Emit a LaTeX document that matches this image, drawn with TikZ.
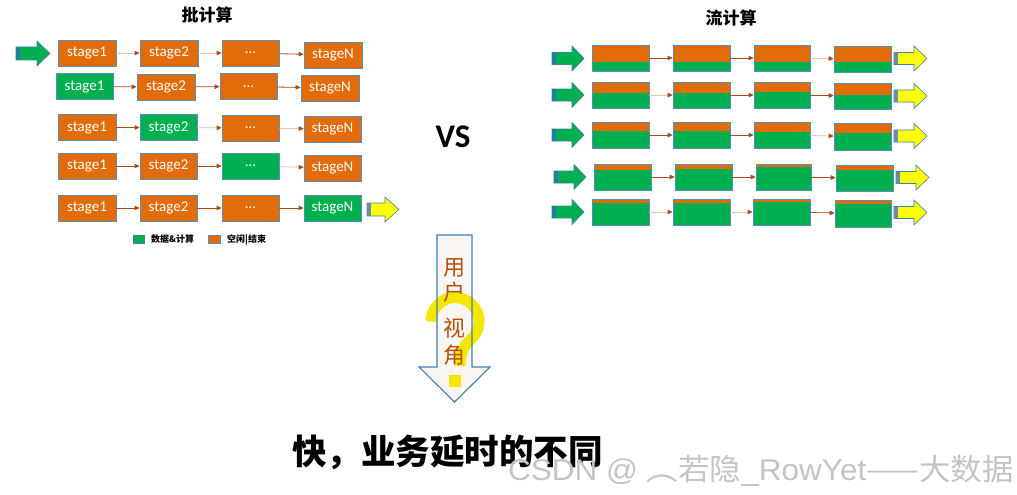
\documentclass[tikz,border=0pt]{standalone}
\usepackage{fontspec}
\setmainfont{Carlito}
\newfontfamily\cjk{Noto Sans CJK SC}
\newfontfamily\lib{Liberation Sans}
\usetikzlibrary{arrows.meta}
\definecolor{org}{HTML}{E26B0A}
\definecolor{grn}{HTML}{00B050}
\definecolor{bord}{HTML}{5B8DB8}
\definecolor{conndark}{HTML}{A84C1C}
\definecolor{connlight}{HTML}{EBC3AE}
\definecolor{arrbord}{HTML}{3F7FB3}
\definecolor{gstripe}{HTML}{1F7F9F}
\definecolor{ystripe}{HTML}{6A8CA8}
\definecolor{ylw}{HTML}{FFFF00}
\definecolor{qy}{HTML}{F3E600}
\definecolor{txtbrown}{HTML}{B4520E}
\definecolor{wm}{HTML}{C4C4C4}
\definecolor{downfill}{HTML}{F9F5F3}
% block arrow: x0, xhead, xtip, yc, half height, shaft half height, fill, stripe colour
\newcommand\blkarrow[8]{%
  \draw[arrbord, line width=0.6, fill=#7] (#1,#4-#6) -- (#2,#4-#6) -- (#2,#4-#5) -- (#3,#4) -- (#2,#4+#5) -- (#2,#4+#6) -- (#1,#4+#6) -- cycle;
  \fill[#8] (#1,#4-#6) rectangle (#1+3.5,#4+#6);}
% stream box: name, x0, y0, x1, y1, orange bottom
\newcommand\stbox[6]{%
  \node[sstage, minimum width={#4-#2}, minimum height={#5-#3}] (#1) at ({(#2+#4)/2},{(#3+#5)/2}) {};
  \fill[org] (#2,#3) rectangle (#4,#6);
  \draw[bord, line width=0.7] (#2,#3) rectangle (#4,#5);}
\begin{document}
\begin{tikzpicture}[x=1pt,y=-1pt,
  bstage/.style={draw=bord, line width=0.7, minimum width=58, minimum height=26, inner sep=0, text=white, font=\fontsize{15}{15}\selectfont},
  sstage/.style={draw=bord, line width=0.7, fill=grn, inner sep=0},
  conn/.style={draw=conndark, line width=0.8, -{Triangle[length=5pt,width=4.5pt,color=conndark]}},
  connl/.style={conn, draw=connlight},
]
\useasboundingbox (0,0) rectangle (1017,495);
\fill[white] (0,0) rectangle (1017,495);

% ---------- titles ----------
\node[font=\cjk\bfseries\fontsize{17}{17}\selectfont] (t1) at (207,15) {批计算};
\node[font=\cjk\bfseries\fontsize{17}{17}\selectfont] (t2) at (731,18) {流计算};
\node[font=\bfseries\fontsize{33}{33}\selectfont] (vs) at (453,137) {VS};

% ---------- batch ----------
\blkarrow{16}{37}{50}{53.5}{12.5}{6.5}{grn}{gstripe}
\node[bstage, fill=org] (b11) at (87,53) {stage1};
\node[bstage, fill=org] (b12) at (169,53) {stage2};
\node[bstage, fill=org, minimum width=57] (b13) at (250.5,53) {...};
\node[bstage, fill=org] (b14) at (333,55) {stageN};
\draw[connl] (b11) -- (b12);
\draw[connl] (b12) -- (b13);
\draw[conn] (b13) -- (b14);

\node[bstage, fill=grn, minimum width=57] (b21) at (84.5,86.5) {stage1};
\node[bstage, fill=org] (b22) at (166,87) {stage2};
\node[bstage, fill=org, minimum width=57] (b23) at (248.5,86.5) {...};
\node[bstage, fill=org] (b24) at (330,88) {stageN};
\draw[conn] (b21) -- (b22);
\draw[conn] (b22) -- (b23);
\draw[conn] (b23) -- (b24);

\node[bstage, fill=org] (b31) at (87,127.5) {stage1};
\node[bstage, fill=grn, minimum width=57] (b32) at (168.5,127.5) {stage2};
\node[bstage, fill=org, minimum width=57] (b33) at (250.5,128) {...};
\node[bstage, fill=org, minimum width=57] (b34) at (332.5,129) {stageN};
\draw[conn] (b31) -- (b32);
\draw[connl] (b32) -- (b33);
\draw[connl] (b33) -- (b34);

\node[bstage, fill=org] (b41) at (87,166) {stage1};
\node[bstage, fill=org, minimum width=57] (b42) at (168.5,166) {stage2};
\node[bstage, fill=grn, minimum width=57] (b43) at (250.5,166) {...};
\node[bstage, fill=org, minimum width=57] (b44) at (332.5,168) {stageN};
\draw[conn] (b41) -- (b42);
\draw[conn] (b42) -- (b43);
\draw[connl] (b43) -- (b44);

\node[bstage, fill=org] (b51) at (87,208) {stage1};
\node[bstage, fill=org, minimum width=57] (b52) at (168.5,208) {stage2};
\node[bstage, fill=org, minimum width=57] (b53) at (250.5,208) {...};
\node[bstage, fill=grn, minimum width=57] (b54) at (332.5,208) {stageN};
\draw[conn] (b51) -- (b52);
\draw[conn] (b52) -- (b53);
\draw[conn] (b53) -- (b54);
\blkarrow{367}{385}{399}{209.5}{12.5}{6.5}{ylw}{ystripe}

% legend
\node[draw=arrbord, line width=0.6, fill=grn, minimum width=11, minimum height=8, inner sep=0] (lg1) at (138.5,239) {};
\node[anchor=west, font=\cjk\bfseries\fontsize{9}{9}\selectfont, inner sep=0] (lt1) at (151,239.5) {数据\&计算};
\node[draw=bord, line width=0.6, fill=org, minimum width=12, minimum height=8, inner sep=0] (lg2) at (214,239) {};
\node[anchor=west, font=\cjk\bfseries\fontsize{9}{9}\selectfont, inner sep=0] (lt2) at (227,239.5) {空闲|结束};

% ---------- stream ----------
\stbox{s11}{592}{45}{649}{71}{62}
\stbox{s12}{673}{45}{730}{71}{62}
\stbox{s13}{754}{45}{810}{71}{62}
\stbox{s14}{834}{46}{891}{72}{62}
\draw[conn] (s11) -- (s12);
\draw[conn] (s12) -- (s13);
\draw[connl] (s13) -- (s14);

\stbox{s21}{592}{82}{649}{108}{93}
\stbox{s22}{673}{82}{730}{108}{93}
\stbox{s23}{754}{82}{810}{108}{92}
\stbox{s24}{834}{83}{891}{109}{95}
\draw[connl] (s21) -- (s22);
\draw[conn] (s22) -- (s23);
\draw[conn] (s23) -- (s24);

\stbox{s31}{592}{122}{649}{148}{131}
\stbox{s32}{673}{122}{730}{148}{131}
\stbox{s33}{754}{122}{810}{148}{132}
\stbox{s34}{834}{123}{891}{150}{133}
\draw[conn] (s31) -- (s32);
\draw[conn] (s32) -- (s33);
\draw[connl] (s33) -- (s34);

\stbox{s41}{594}{164}{651}{190}{170}
\stbox{s42}{675}{164}{732}{190}{169}
\stbox{s43}{756}{164}{811}{190}{167}
\stbox{s44}{836}{165}{893}{191}{170}
\draw[conn] (s41) -- (s42);
\draw[conn] (s42) -- (s43);
\draw[conn] (s43) -- (s44);

\stbox{s51}{592}{199}{649}{225}{203}
\stbox{s52}{673}{199}{730}{225}{203}
\stbox{s53}{753}{199}{810}{225}{202}
\stbox{s54}{835}{200}{891}{227}{204}
\draw[connl] (s51) -- (s52);
\draw[connl] (s52) -- (s53);
\draw[conn] (s53) -- (s54);

\blkarrow{552}{572}{584}{58.5}{12.5}{6}{grn}{gstripe}
\blkarrow{552}{572}{584}{95}{12.5}{6}{grn}{gstripe}
\blkarrow{552}{572}{584}{135}{12.5}{6}{grn}{gstripe}
\blkarrow{554}{574}{586}{177}{12.5}{6}{grn}{gstripe}
\blkarrow{552}{572}{584}{212}{12.5}{6}{grn}{gstripe}
\blkarrow{894}{914}{927}{58.5}{12.5}{6}{ylw}{ystripe}
\blkarrow{894}{914}{927}{96}{12.5}{6}{ylw}{ystripe}
\blkarrow{894}{914}{927}{136}{12.5}{6}{ylw}{ystripe}
\blkarrow{896}{916}{929}{177.5}{12.5}{6}{ylw}{ystripe}
\blkarrow{894}{914}{927}{212.5}{12.5}{6}{ylw}{ystripe}

% ---------- user view arrow ----------
\fill[downfill] (437,235) -- (472,235) -- (472,367) -- (490,367) -- (454.5,402) -- (419,367) -- (437,367) -- cycle;
\draw[qy, line width=11] (431,321.5) arc[start angle=180, end angle=410, radius=24] .. controls (464,346) and (460,352) .. (460,366);
\fill[qy] (449,375) rectangle (461,387);
\draw[arrbord, line width=1.1] (437,235) -- (472,235) -- (472,367) -- (490,367) -- (454.5,402) -- (419,367) -- (437,367) -- cycle;
\node[font=\cjk\fontsize{22}{22}\selectfont, text=txtbrown, inner sep=0] (u1) at (454,268) {用};
\node[font=\cjk\fontsize{22}{22}\selectfont, text=txtbrown, inner sep=0] (u2) at (454,292) {户};
\node[font=\cjk\fontsize{22}{22}\selectfont, text=txtbrown, inner sep=0] (u3) at (454,328) {视};
\node[font=\cjk\fontsize{22}{22}\selectfont, text=txtbrown, inner sep=0] (u4) at (454,355) {角};

% ---------- bottom ----------
\node[font=\cjk\bfseries\fontsize{34.5}{34.5}\selectfont, inner sep=0] (slogan) at (447.5,452) {快，业务延时的不同};
\node[anchor=base west, inner sep=0, text=wm, font=\fontsize{30}{30}\selectfont] (wmark) at (508,480) {\scalebox{1.05}[1]{{\lib CSDN @ }{\cjk ︵若隐}{\lib \_RowYet}{\cjk ——大数据}}};
\end{tikzpicture}
\end{document}
